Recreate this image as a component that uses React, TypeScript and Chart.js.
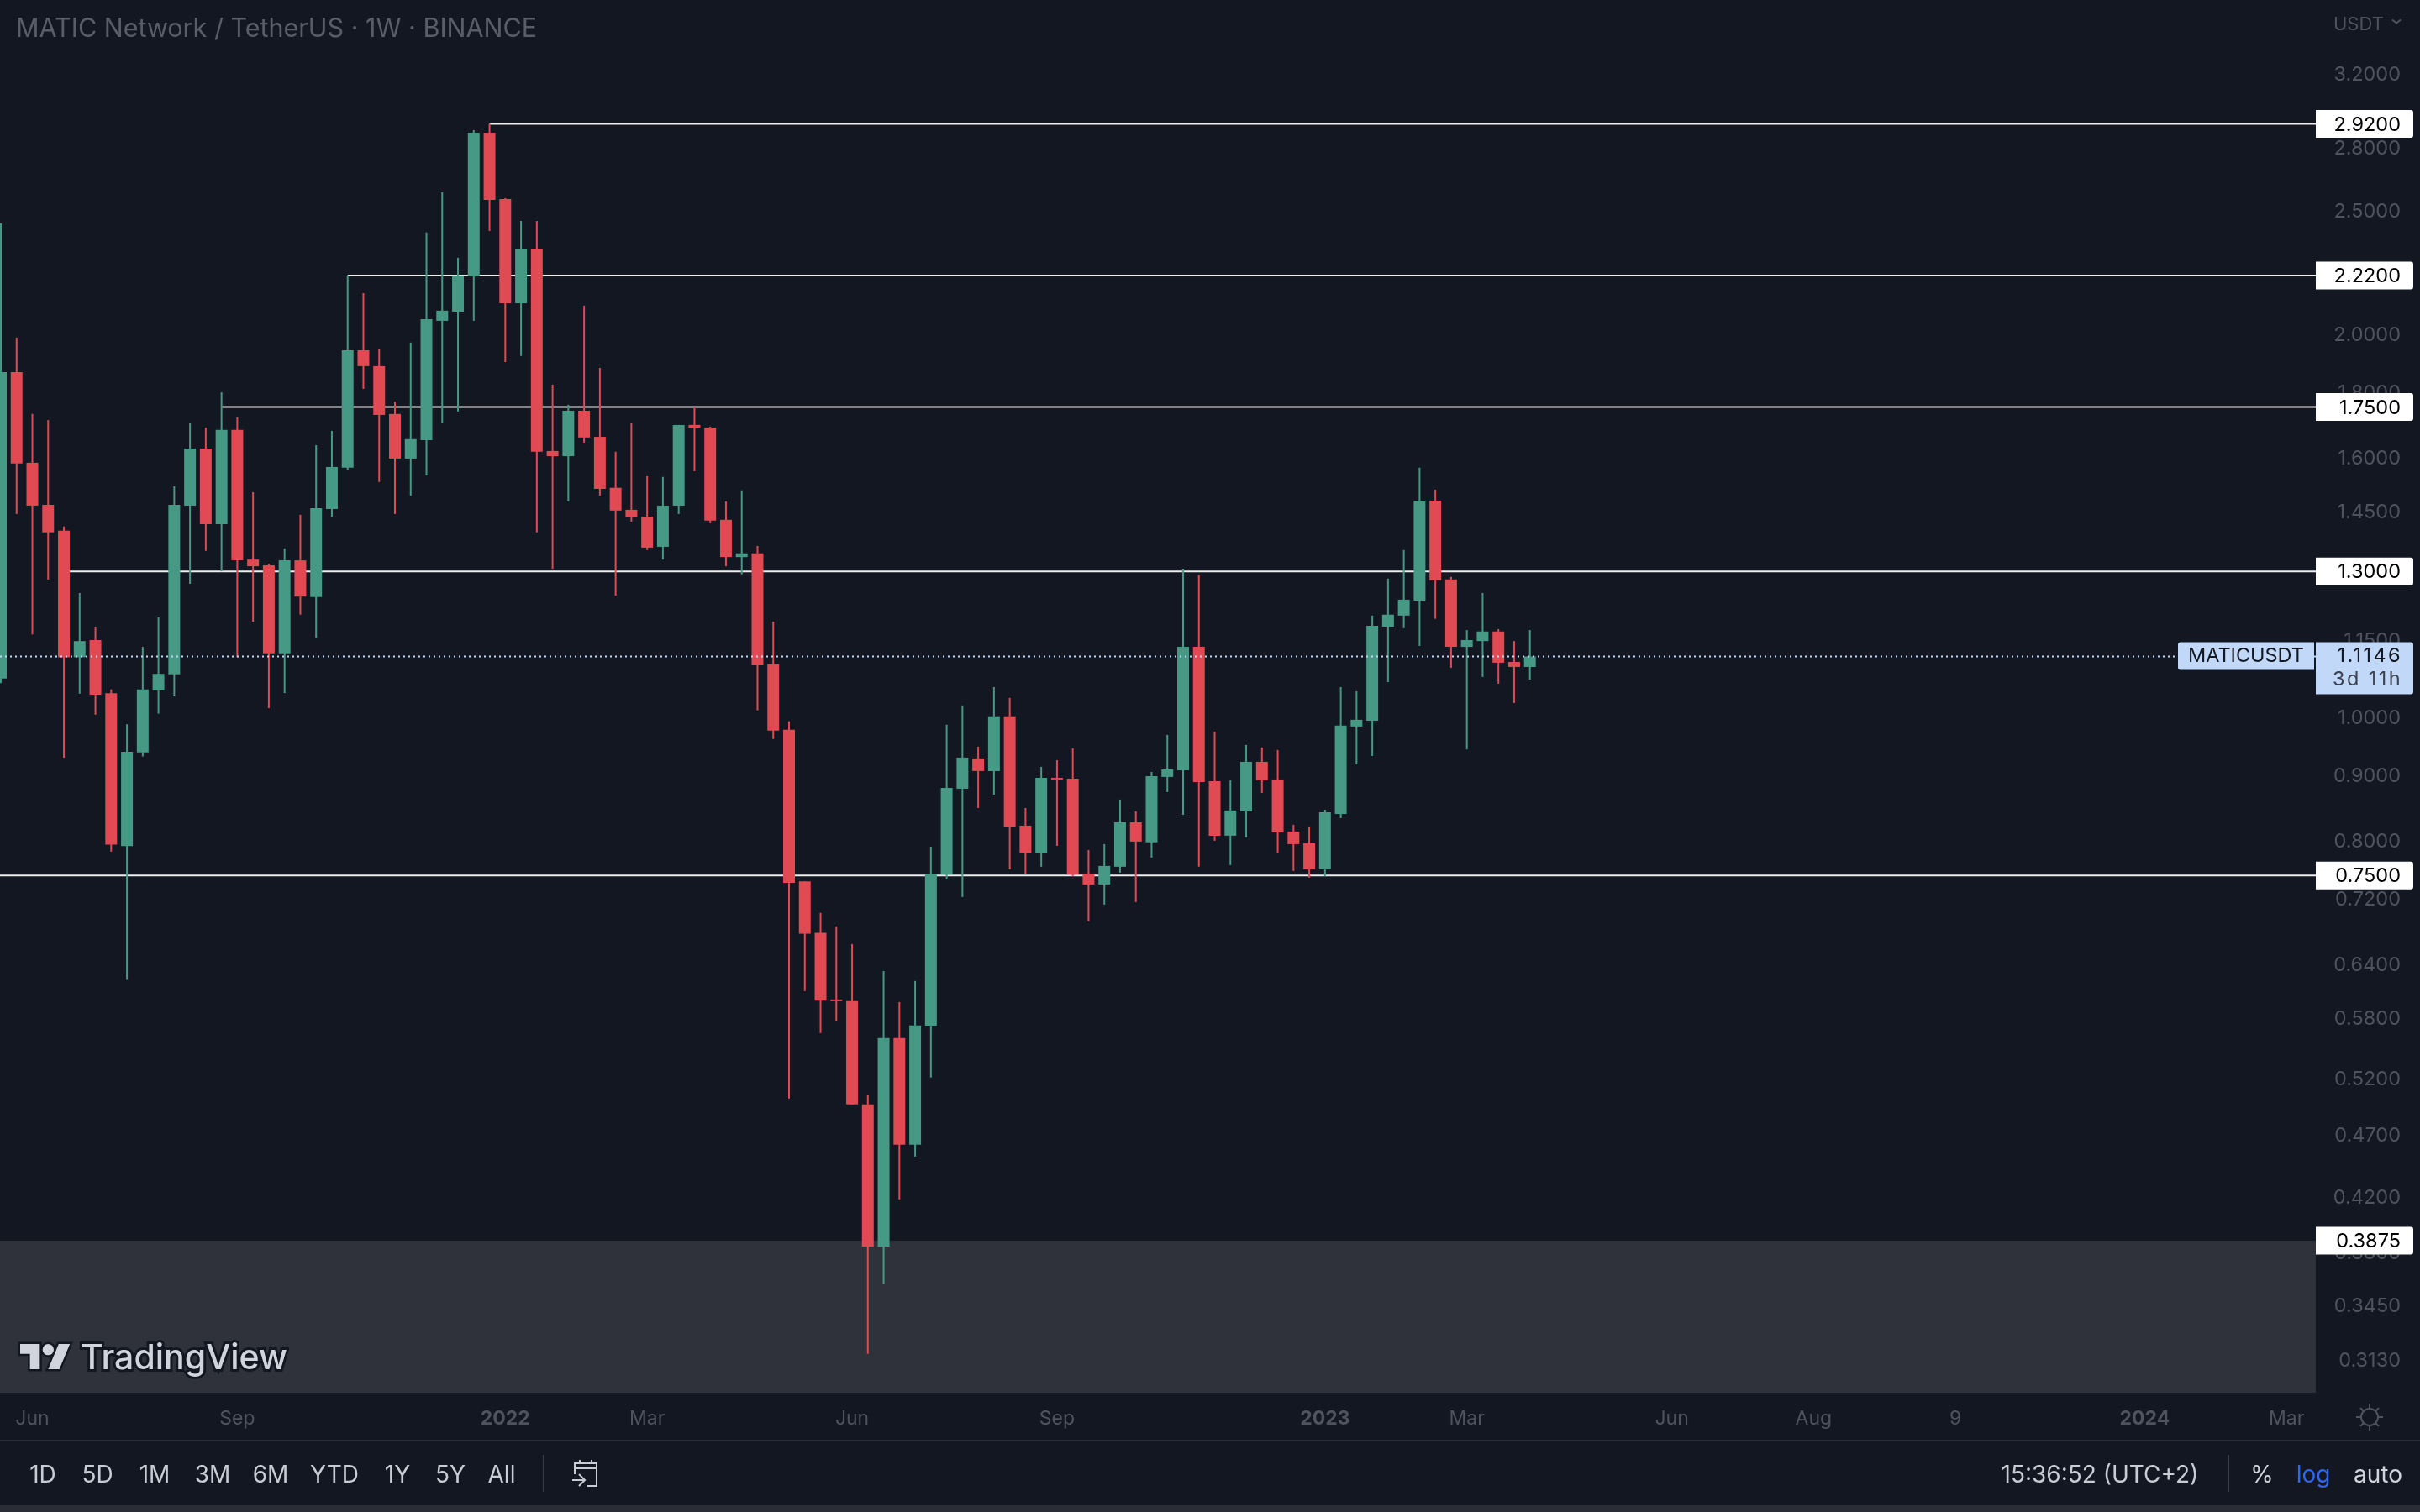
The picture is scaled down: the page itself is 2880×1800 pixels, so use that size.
import { useEffect, useRef } from "react"
import Chart from "chart.js/auto"

// weekly candles, oldest first
const opens = [
    1.071, 1.864, 1.582, 1.466, 1.399, 1.113, 1.148, 1.043, 0.791, 0.937,
    1.048, 1.079, 1.464, 1.623, 1.416, 1.679, 1.328, 1.314, 1.121, 1.326,
    1.241, 1.455, 1.568, 1.939, 1.884, 1.728, 1.594, 1.648, 2.045, 2.079,
    2.216, 2.874, 2.549, 2.111, 2.33, 1.616, 1.601, 1.738, 1.658, 1.512,
    1.453, 1.435, 1.359, 1.464, 1.694, 1.686, 1.427, 1.334, 1.343, 1.099,
    0.976, 0.742, 0.676, 0.5984, 0.5975, 0.4957, 0.3834, 0.559, 0.4608, 0.571,
    0.7515, 0.8774, 0.9268, 0.9059, 1.0, 0.8207, 0.7806, 0.8949, 0.8935, 0.7526,
    0.7379, 0.7619, 0.8257, 0.7962, 0.8963, 0.9073, 1.134, 0.8895, 0.8059, 0.8422,
    0.9211, 0.8922, 0.812, 0.795, 0.7584, 0.8384, 0.9819, 0.9924, 1.176, 1.2,
    1.233, 1.4775, 1.281, 1.134, 1.146, 1.166, 1.1036, 1.0936,
]
const highs = [
    2.439, 1.984, 1.728, 1.709, 1.41, 1.25, 1.176, 1.05, 0.986, 1.134,
    1.196, 1.516, 1.699, 1.686, 1.797, 1.717, 1.5, 1.318, 1.355, 1.44,
    1.633, 1.676, 2.22, 2.15, 1.942, 1.767, 1.966, 2.399, 2.58, 2.292,
    2.887, 2.92, 2.553, 2.45, 2.45, 1.822, 1.757, 2.102, 1.878, 1.614,
    1.699, 1.544, 1.542, 1.694, 1.75, 1.689, 1.475, 1.505, 1.361, 1.187,
    0.991, 0.742, 0.701, 0.684, 0.6625, 0.504, 0.631, 0.5966, 0.6197, 0.79,
    0.985, 1.02, 0.9467, 1.0545, 1.034, 0.8473, 0.9128, 0.924, 0.9438, 0.7854,
    0.7937, 0.8603, 0.8422, 0.9045, 0.9671, 1.306, 1.291, 0.973, 0.8909, 0.9496,
    0.9453, 0.941, 0.822, 0.8195, 0.8447, 1.0545, 1.0465, 1.2, 1.283, 1.351,
    1.568, 1.507, 1.287, 1.169, 1.25, 1.171, 1.146, 1.169,
]
const lows = [
    1.062, 1.442, 1.16, 1.281, 0.928, 1.042, 1.003, 0.783, 0.621, 0.93,
    1.005, 1.037, 1.271, 1.349, 1.3, 1.113, 1.187, 1.015, 1.043, 1.202,
    1.152, 1.435, 1.561, 1.808, 1.528, 1.442, 1.491, 1.546, 1.699, 1.736,
    2.045, 2.406, 1.898, 1.919, 1.395, 1.306, 1.475, 1.641, 1.491, 1.244,
    1.422, 1.351, 1.328, 1.442, 1.558, 1.418, 1.312, 1.293, 1.011, 0.96,
    0.501, 0.6085, 0.564, 0.576, 0.4957, 0.3157, 0.3586, 0.4175, 0.4511, 0.5204,
    0.7447, 0.7213, 0.8473, 0.868, 0.7584, 0.7526, 0.7619, 0.7913, 0.7492, 0.6902,
    0.7115, 0.7538, 0.7148, 0.7747, 0.8721, 0.8371, 0.7619, 0.7986, 0.7642, 0.8035,
    0.8708, 0.7806, 0.7561, 0.747, 0.7492, 0.832, 0.917, 0.931, 1.064, 1.173,
    1.136, 1.193, 1.092, 0.942, 1.074, 1.061, 1.0245, 1.069,
]
const closes = [
    1.864, 1.58, 1.464, 1.395, 1.113, 1.146, 1.04, 0.793, 0.938, 1.05,
    1.08, 1.466, 1.623, 1.416, 1.679, 1.326, 1.312, 1.121, 1.326, 1.242,
    1.457, 1.57, 1.939, 1.884, 1.725, 1.594, 1.651, 2.051, 2.083, 2.22,
    2.874, 2.545, 2.111, 2.33, 1.614, 1.601, 1.738, 1.656, 1.509, 1.451,
    1.433, 1.357, 1.464, 1.694, 1.686, 1.425, 1.334, 1.343, 1.097, 0.9745,
    0.74, 0.675, 0.598, 0.5975, 0.4957, 0.3834, 0.559, 0.4608, 0.5718, 0.7526,
    0.8788, 0.9282, 0.9059, 1.0, 0.8195, 0.7806, 0.8949, 0.8922, 0.7515, 0.7379,
    0.763, 0.8257, 0.7974, 0.8977, 0.9086, 1.134, 0.8882, 0.8059, 0.8435, 0.9211,
    0.8909, 0.8108, 0.7937, 0.7584, 0.8409, 0.9834, 0.9939, 1.178, 1.202, 1.235,
    1.4775, 1.279, 1.134, 1.148, 1.166, 1.102, 1.0936, 1.1146,
]

// week index -> label on the time axis
const timeTicks = [2, 15, 32, 41, 54, 67, 84, 93, 106, 115, 124, 136, 145]
const timeLabels = ["Jun", "Sep", "2022", "Mar", "Jun", "Sep", "2023", "Mar", "Jun", "Aug", "9", "2024", "Mar"]
const yearLabels = ["2022", "2023", "2024"]

const priceTicks = [
    3.2, 2.8, 2.5, 2.0, 1.8, 1.6, 1.45, 1.15, 1.0, 0.9,
    0.8, 0.72, 0.64, 0.58, 0.52, 0.47, 0.42, 0.38, 0.345, 0.313,
]

// horizontal levels and the week each one starts from
const levelPrices = [2.92, 2.22, 1.75, 1.3, 0.75]
const levelStarts = [31, 22, 14, 4, -1]
const zoneTop = 0.3875
const lastPrice = 1.1146

const xMin = -0.0533
const xMax = 146.855
const yMax = 3.6533
const yMin = 0.2943

const bg = "#131722"
const green = "#469985"
const red = "#e14a52"
const tickColor = "#50535e"
const tagBlue = "#c1d8f8"
const font = "Inter"

const candleColors = opens.map((o, i) => (closes[i] >= o ? green : red))

const priceTags = {
    id: "priceTags",
    afterDraw(chart: Chart) {
        const { ctx, chartArea } = chart
        const y = chart.scales.y
        const left = chartArea.right
        ctx.save()
        ctx.font = `23.5px ${font}`
        ctx.textBaseline = "middle"
        for (const p of [...levelPrices, zoneTop]) {
            const py = y.getPixelForValue(p)
            ctx.fillStyle = "#ffffff"
            ctx.beginPath()
            ctx.roundRect(left, py - 16.5, 116, 33, [0, 3, 3, 0])
            ctx.fill()
            ctx.fillStyle = "#000000"
            ctx.textAlign = "right"
            ctx.fillText(p.toFixed(4), 2857, py + 1)
        }
        const py = y.getPixelForValue(lastPrice)
        ctx.fillStyle = tagBlue
        ctx.beginPath()
        ctx.roundRect(left, py - 17, 116, 62, [0, 3, 3, 0])
        ctx.fill()
        ctx.beginPath()
        ctx.roundRect(left - 164, py - 17, 162, 33, [3, 0, 0, 3])
        ctx.fill()
        ctx.fillStyle = "#131722"
        ctx.textAlign = "center"
        ctx.fillText("MATICUSDT", left - 83, py)
        ctx.textAlign = "right"
        ctx.letterSpacing = "2.4px"
        ctx.fillText(lastPrice.toFixed(4), 2859, py)
        ctx.fillStyle = "#3d4250"
        ctx.fillText("3d 11h", 2859, py + 28)
        ctx.restore()
    },
}

const barLabels = [
    { text: "1D", x: 51 },
    { text: "5D", x: 116 },
    { text: "1M", x: 184 },
    { text: "3M", x: 253 },
    { text: "6M", x: 322 },
    { text: "YTD", x: 398 },
    { text: "1Y", x: 473 },
    { text: "5Y", x: 536 },
    { text: "All", x: 597 },
]

function Label({ x, color, children }: { x: number; color: string; children: string }) {
    return (
        <span
            style={{
                position: "absolute",
                left: x,
                top: 1737,
                transform: "translateX(-50%)",
                fontSize: 28,
                lineHeight: "36px",
                color,
                whiteSpace: "nowrap",
            }}
        >
            {children}
        </span>
    )
}

function App() {
    const canvasRef = useRef<HTMLCanvasElement>(null)

    useEffect(() => {
        if (!canvasRef.current) return

        const chart = new Chart(canvasRef.current, {
            type: "bar",
            data: {
                datasets: [
                    {
                        type: "line",
                        data: [
                            { x: xMin, y: lastPrice },
                            { x: xMax, y: lastPrice },
                        ],
                        borderColor: tagBlue,
                        borderWidth: 2,
                        borderDash: [2, 4],
                        pointRadius: 0,
                        order: 0,
                    },
                    {
                        data: opens.map((o, i) => ({ x: i, y: [o, closes[i]] })),
                        backgroundColor: candleColors,
                        barThickness: 14,
                        grouped: false,
                        minBarLength: 2,
                        inflateAmount: 0,
                        order: 1,
                    },
                    {
                        data: lows.map((l, i) => ({ x: i, y: [l, highs[i]] })),
                        backgroundColor: candleColors,
                        barThickness: 2,
                        grouped: false,
                        inflateAmount: 0,
                        order: 2,
                    },
                    ...levelPrices.map((p, i) => ({
                        type: "line",
                        data: [
                            { x: levelStarts[i], y: p },
                            { x: xMax, y: p },
                        ],
                        borderColor: "#eeeeee",
                        borderWidth: 2,
                        pointRadius: 0,
                        order: 3,
                    })),
                    {
                        type: "line",
                        data: [
                            { x: xMin, y: zoneTop },
                            { x: xMax, y: zoneTop },
                        ],
                        borderWidth: 0,
                        backgroundColor: "#2f323b",
                        fill: "start",
                        pointRadius: 0,
                        order: 4,
                    },
                ] as any,
            },
            options: {
                animation: false,
                responsive: false,
                devicePixelRatio: 1,
                events: [],
                layout: { padding: { right: 23 } },
                plugins: { legend: { display: false }, tooltip: { enabled: false } },
                scales: {
                    x: {
                        type: "linear",
                        offset: false,
                        min: xMin,
                        max: xMax,
                        bounds: "data",
                        grid: { display: false, drawTicks: false },
                        border: { display: false },
                        afterBuildTicks: (scale) => {
                            scale.ticks = timeTicks.map((value) => ({ value }))
                        },
                        afterFit: (scale: any) => {
                            scale.height = 142
                            scale.paddingLeft = 0
                            scale.paddingRight = 0
                        },
                        ticks: {
                            autoSkip: false,
                            maxRotation: 0,
                            padding: 17,
                            color: tickColor,
                            font: (c: any) => ({
                                family: font,
                                size: 23,
                                weight: yearLabels.includes(timeLabels[timeTicks.indexOf(c.tick?.value)]) ? 700 : 400,
                            }),
                            callback: (v) => timeLabels[timeTicks.indexOf(Number(v))],
                        },
                    },
                    y: {
                        type: "logarithmic",
                        position: "right",
                        min: yMin,
                        max: yMax,
                        bounds: "data",
                        grid: { display: false, drawTicks: false },
                        border: { display: false },
                        afterBuildTicks: (scale) => {
                            scale.ticks = priceTicks.map((value) => ({ value }))
                        },
                        afterFit: (scale: any) => {
                            scale.width = 101
                            scale.paddingTop = 0
                            scale.paddingBottom = 0
                        },
                        ticks: {
                            autoSkip: false,
                            crossAlign: "far",
                            labelOffset: 2,
                            color: tickColor,
                            font: { family: font, size: 23.5 },
                            callback: (v) => Number(v).toFixed(4),
                        },
                    },
                },
            },
            plugins: [priceTags],
        })

        return () => {
            chart.destroy()
        }
    }, [])

    return (
        <div
            style={{
                position: "absolute",
                left: 0,
                top: 0,
                width: 2880,
                height: 1800,
                overflow: "hidden",
                background: bg,
                fontFamily: font,
            }}
        >
            <canvas ref={canvasRef} width={2880} height={1800} style={{ position: "absolute", left: 0, top: 0 }} />

            {/* title */}
            <div style={{ position: "absolute", left: 19, top: 15, fontSize: 30.5, lineHeight: "36px", color: "#5a5d68", whiteSpace: "nowrap" }}>
                MATIC Network / TetherUS · 1W · BINANCE
            </div>

            {/* currency */}
            <div style={{ position: "absolute", left: 2777, top: 14, fontSize: 22, lineHeight: "28px", color: tickColor }}>USDT</div>
            <svg style={{ position: "absolute", left: 2846, top: 22 }} width="12" height="8" viewBox="0 0 12 8">
                <path d="M1 1.5 L6 5.5 L11 1.5" fill="none" stroke={tickColor} strokeWidth="2" />
            </svg>

            {/* logo */}
            <svg style={{ position: "absolute", left: 20, top: 1596, overflow: "visible" }} width="68" height="38" viewBox="-2.4 1.6 40.8 22.8">
                <path
                    d="M14 22H7V11H0V4h14v18zM28 22h-8l7.5-18h8L28 22z"
                    fill="#d1d4dc"
                    stroke="#131722"
                    strokeWidth="3"
                    paintOrder="stroke"
                />
                <circle cx="20" cy="8" r="4" fill="#d1d4dc" stroke="#131722" strokeWidth="3" paintOrder="stroke" />
            </svg>
            <div
                style={{
                    position: "absolute",
                    left: 96,
                    top: 1590,
                    fontSize: 41,
                    lineHeight: "50px",
                    fontWeight: 500,
                    color: "#d1d4dc",
                    WebkitTextStroke: "6px #131722",
                    paintOrder: "stroke",
                    whiteSpace: "nowrap",
                }}
            >
                TradingView
            </div>

            {/* gear on the time axis */}
            <svg style={{ position: "absolute", left: 2802, top: 1669 }} width="36" height="36" viewBox="0 0 36 36">
                <circle cx="18" cy="18" r="10" fill="none" stroke={tickColor} strokeWidth="2" />
                <path d="M18 2V8M18 28V34M2 18H8M28 18H34M7 7L11 11M25 25L29 29M29 7L25 11M7 29L11 25" stroke={tickColor} strokeWidth="2" />
            </svg>

            {/* bottom toolbar */}
            <div style={{ position: "absolute", left: 0, top: 1714, width: 2880, height: 2, background: "#2a2d36" }} />
            <div style={{ position: "absolute", left: 0, top: 1792, width: 2880, height: 8, background: "#2a2d36" }} />
            {barLabels.map((b) => (
                <Label key={b.text} x={b.x} color="#c9ccd4">
                    {b.text}
                </Label>
            ))}
            <div style={{ position: "absolute", left: 646, top: 1732, width: 2, height: 44, background: "#3a3d47" }} />
            <svg style={{ position: "absolute", left: 679, top: 1737 }} width="36" height="34" viewBox="0 0 36 34">
                <path
                    d="M5 18V5H31V32H20M5 11H31M11 1V6M25 1V6M2 25H16M10 18L17 25L10 32"
                    fill="none"
                    stroke="#c9ccd4"
                    strokeWidth="2"
                />
            </svg>
            <Label x={2499} color="#c9ccd4">
                15:36:52 (UTC+2)
            </Label>
            <div style={{ position: "absolute", left: 2651, top: 1732, width: 2, height: 44, background: "#3a3d47" }} />
            <Label x={2692} color="#d1d4dc">
                %
            </Label>
            <Label x={2753} color="#2f66f0">
                log
            </Label>
            <Label x={2830} color="#d1d4dc">
                auto
            </Label>
        </div>
    )
}

export default App
